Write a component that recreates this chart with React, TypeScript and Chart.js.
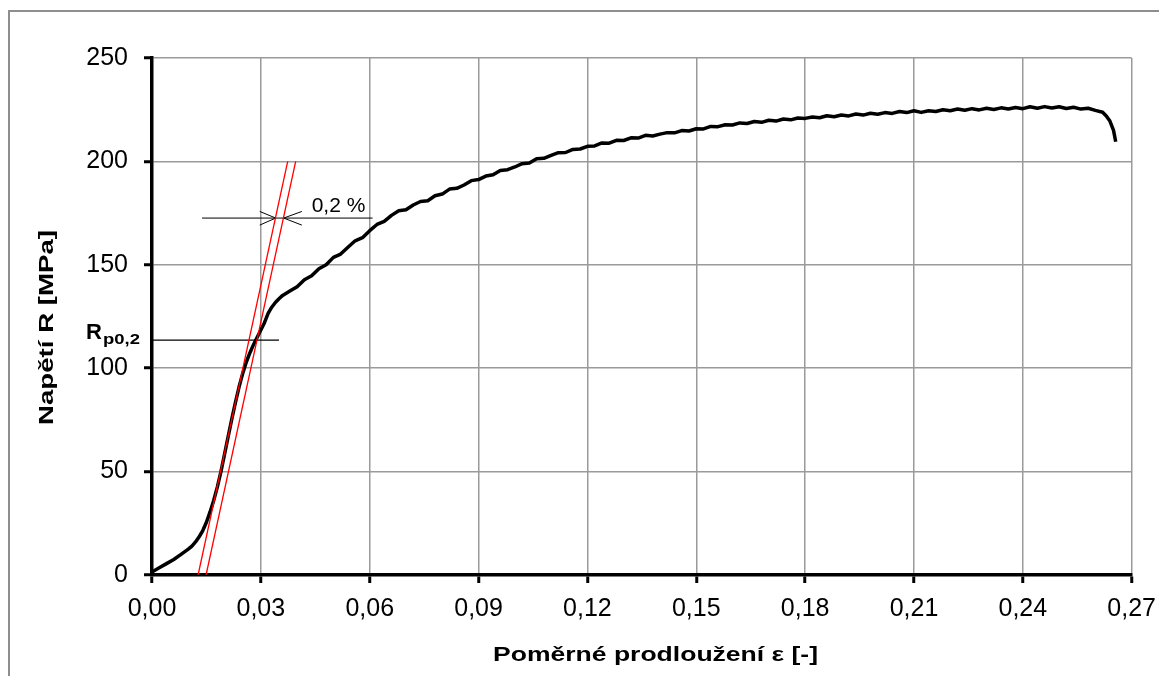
import React, { useEffect, useRef } from "react";
import { Chart, registerables } from "chart.js";

Chart.register(...registerables);

// ---- data ----
const strain = [
  0, 0.002, 0.004, 0.006, 0.008, 0.01, 0.011, 0.012, 0.013, 0.014, 0.015, 0.016, 0.017, 0.018, 0.019, 0.02,
  0.021, 0.022, 0.023, 0.024, 0.025, 0.026, 0.027, 0.028, 0.029, 0.03, 0.031, 0.032, 0.033, 0.034, 0.035, 0.036,
  0.038, 0.04, 0.042, 0.044, 0.046, 0.048, 0.05, 0.052, 0.054, 0.056, 0.058, 0.06, 0.062, 0.064, 0.066, 0.068,
  0.07, 0.072, 0.074, 0.076, 0.078, 0.08, 0.082, 0.084, 0.086, 0.088, 0.09, 0.092, 0.094, 0.096, 0.098, 0.1,
  0.102, 0.104, 0.106, 0.108, 0.11, 0.112, 0.114, 0.116, 0.118, 0.12, 0.122, 0.124, 0.126, 0.128, 0.13, 0.132,
  0.134, 0.136, 0.138, 0.14, 0.142, 0.144, 0.146, 0.148, 0.15, 0.152, 0.154, 0.156, 0.158, 0.16, 0.162, 0.164,
  0.166, 0.168, 0.17, 0.172, 0.174, 0.176, 0.178, 0.18, 0.182, 0.184, 0.186, 0.188, 0.19, 0.192, 0.194, 0.196,
  0.198, 0.2, 0.202, 0.204, 0.206, 0.208, 0.21, 0.212, 0.214, 0.216, 0.218, 0.22, 0.222, 0.224, 0.226, 0.228,
  0.23, 0.232, 0.234, 0.236, 0.238, 0.24, 0.242, 0.244, 0.246, 0.248, 0.25, 0.252, 0.254, 0.256, 0.258, 0.26,
  0.262, 0.263, 0.264, 0.265, 0.2656,
];
const stress = [
  1.5, 3.5, 5.5, 7.5, 10, 12.5, 14, 16, 18.5, 21.5, 25.5, 30.5, 36, 42.5, 50, 58.5,
  67, 75.5, 83.5, 91, 97.5, 103, 107.5, 111.5, 115, 118.5, 122, 126.5, 129.5, 131.8, 133.6, 135.2,
  137.3, 139.4, 142.8, 144.7, 148.1, 150.0, 153.6, 155.2, 158.5, 161.6, 163.1, 166.5, 169.5, 171.0, 173.9, 176.1,
  176.6, 178.9, 180.6, 181.0, 183.4, 184.2, 186.6, 187.0, 188.6, 190.7, 191.2, 192.9, 193.5, 195.6, 196.0, 197.3,
  198.9, 199.2, 201.3, 201.5, 202.9, 204.2, 204.3, 205.8, 206.0, 207.3, 207.5, 208.9, 208.8, 210.2, 210.1, 211.4,
  211.3, 212.6, 212.3, 213.2, 213.9, 213.8, 214.9, 214.7, 215.8, 215.7, 216.9, 216.8, 217.7, 217.6, 218.6, 218.3,
  219.3, 218.9, 219.9, 219.5, 220.5, 220.1, 221.0, 220.8, 221.5, 221.1, 222.1, 221.6, 222.4, 222.0, 222.9, 222.4,
  223.3, 222.8, 223.6, 223.2, 224.1, 223.6, 224.5, 223.7, 224.5, 224.1, 225.0, 224.5, 225.3, 224.7, 225.5, 224.9,
  225.7, 225.1, 225.9, 225.3, 226.1, 225.5, 226.4, 225.7, 226.5, 225.8, 226.4, 225.6, 226.2, 225.3, 225.7, 224.7,
  223.8, 222.0, 219.5, 215.0, 209.5,
];

// offset (0,2 %) construction lines
const offsetLineAStrain = [0.0127, 0.0374];
const offsetLineAStress = [0, 200];
const offsetLineBStrain = [0.0149, 0.0396];
const offsetLineBStress = [0, 200];

// Rp0,2 level line
const rpLineStrain = [0, 0.035];
const rpLineStress = [113.6, 113.6];

// dimension line with arrows for 0,2 %
const dimLineStrain = [0.0138, 0.0608];
const dimLineStress = [172.6, 172.6];
const leftArrowStrain = [0.0297, 0.0341, 0.0297];
const leftArrowStress = [175.8, 172.6, 169.2];
const rightArrowStrain = [0.0413, 0.0363, 0.0413];
const rightArrowStress = [175.8, 172.6, 169.2];

const offsetLabel = "0,2 %";
const offsetLabelPos = { x: 0.044, y: 175.5 };

const xTickValues = [0, 0.03, 0.06, 0.09, 0.12, 0.15, 0.18, 0.21, 0.24, 0.27];
const xTickLabels = ["0,00", "0,03", "0,06", "0,09", "0,12", "0,15", "0,18", "0,21", "0,24", "0,27"];
const yTickValues = [0, 50, 100, 150, 200, 250];
const yTickLabels = ["0", "50", "100", "150", "200", "250"];

const xTitle = "Poměrné prodloužení ε [-]";
const yTitle = "Napětí R [MPa]";

const FONT = "'Liberation Sans', Arial, sans-serif";

const toPts = (xs: number[], ys: number[]) => xs.map((x, i) => ({ x, y: ys[i] }));

function drawStretched(
  ctx: CanvasRenderingContext2D,
  text: string,
  x: number,
  y: number,
  font: string,
  targetWidth: number,
  align: "left" | "center"
) {
  ctx.save();
  ctx.font = font;
  const w = ctx.measureText(text).width;
  const s = targetWidth / w;
  ctx.translate(x, y);
  ctx.scale(s, 1);
  ctx.textAlign = align;
  ctx.textBaseline = "alphabetic";
  ctx.fillText(text, 0, 0);
  ctx.restore();
}

const decorPlugin = {
  id: "decor",
  beforeDraw(chart: any) {
    const ctx = chart.ctx as CanvasRenderingContext2D;
    ctx.save();
    ctx.fillStyle = "#ffffff";
    ctx.fillRect(0, 0, chart.width, chart.height);
    ctx.fillStyle = "#8e8e8e";
    ctx.fillRect(0, 2, chart.width, 2);
    ctx.fillRect(0, 2, 2, chart.height);
    ctx.restore();
  },
  afterDraw(chart: any) {
    const ctx = chart.ctx as CanvasRenderingContext2D;
    const xs = chart.scales.x;
    const ys = chart.scales.y;
    const area = chart.chartArea;
    ctx.save();
    ctx.fillStyle = "#000";
    // axis titles
    drawStretched(ctx, xTitle, 647.5, 653, `bold 20px ${FONT}`, 325, "center");
    ctx.save();
    ctx.translate(45, 319.5);
    ctx.rotate(-Math.PI / 2);
    drawStretched(ctx, yTitle, 0, 0, `bold 20px ${FONT}`, 195, "center");
    ctx.restore();
    // 0,2 % label
    ctx.font = `21px ${FONT}`;
    ctx.textAlign = "left";
    ctx.textBaseline = "alphabetic";
    ctx.fillText(offsetLabel, xs.getPixelForValue(offsetLabelPos.x), ys.getPixelForValue(offsetLabelPos.y));
    // Rp0,2 label
    const ly = ys.getPixelForValue(rpLineStress[0]);
    ctx.font = `bold 22px ${FONT}`;
    ctx.fillText("R", area.left - 66, ly - 1);
    drawStretched(ctx, "p0,2", area.left - 49, ly + 4, `bold 14px ${FONT}`, 37, "left");
    ctx.restore();
  },
};

export default function App() {
  const ref = useRef<HTMLCanvasElement | null>(null);
  useEffect(() => {
    if (!ref.current) return;
    const thin = (xs: number[], ys: number[], color: string, width: number, order: number) => ({
      data: toPts(xs, ys),
      borderColor: color,
      backgroundColor: color,
      borderWidth: width,
      pointRadius: 0,
      fill: false,
      tension: 0,
      order,
    });
    const chart = new Chart(ref.current, {
      type: "line",
      data: {
        datasets: [
          thin(offsetLineAStrain, offsetLineAStress, "#ff0000", 1.3, 0),
          thin(offsetLineBStrain, offsetLineBStress, "#ff0000", 1.3, 0),
          thin(rpLineStrain, rpLineStress, "#000000", 1.2, 1),
          thin(dimLineStrain, dimLineStress, "#000000", 1, 1),
          thin(leftArrowStrain, leftArrowStress, "#000000", 1, 1),
          thin(rightArrowStrain, rightArrowStress, "#000000", 1, 1),
          {
            data: toPts(strain, stress),
            borderColor: "#000000",
            borderWidth: 3.5,
            pointRadius: 0,
            fill: false,
            tension: 0,
            borderJoinStyle: "round",
            order: 2,
          },
        ],
      },
      options: {
        animation: false,
        responsive: true,
        maintainAspectRatio: false,
        parsing: true,
        layout: { padding: { top: 50, right: 32, bottom: 0, left: 0 } },
        plugins: { legend: { display: false }, tooltip: { enabled: false } },
        scales: {
          x: {
            type: "linear",
            min: 0,
            max: 0.27,
            afterBuildTicks: (s: any) => {
              s.ticks = xTickValues.map((v) => ({ value: v }));
            },
            afterFit: (s: any) => {
              s.height = 101;
            },
            ticks: {
              callback: (_v: any, i: number) => xTickLabels[i],
              font: { family: FONT, size: 25 },
              color: "#000",
              padding: 11,
              maxRotation: 0,
              autoSkip: false,
            },
            grid: { color: "#9a9a9a", lineWidth: 1.5, tickColor: "#000", tickWidth: 3, tickLength: 8 },
            border: { display: true, color: "#000", width: 3.5 },
            title: { display: false },
          },
          y: {
            type: "linear",
            min: 0,
            max: 250,
            afterBuildTicks: (s: any) => {
              s.ticks = yTickValues.map((v) => ({ value: v }));
            },
            afterFit: (s: any) => {
              s.width = 144;
            },
            ticks: {
              callback: (_v: any, i: number) => yTickLabels[i],
              font: { family: FONT, size: 25 },
              color: "#000",
              padding: 16,
              autoSkip: false,
            },
            grid: { color: "#9a9a9a", lineWidth: 1.5, tickColor: "#000", tickWidth: 3, tickLength: 8 },
            border: { display: true, color: "#000", width: 3.5 },
            title: { display: false },
          },
        },
      },
      plugins: [decorPlugin],
    } as any);
    return () => chart.destroy();
  }, []);
  return (
    <div style={{ position: "relative", width: 1159, height: 668 }}>
      <canvas ref={ref} />
    </div>
  );
}
